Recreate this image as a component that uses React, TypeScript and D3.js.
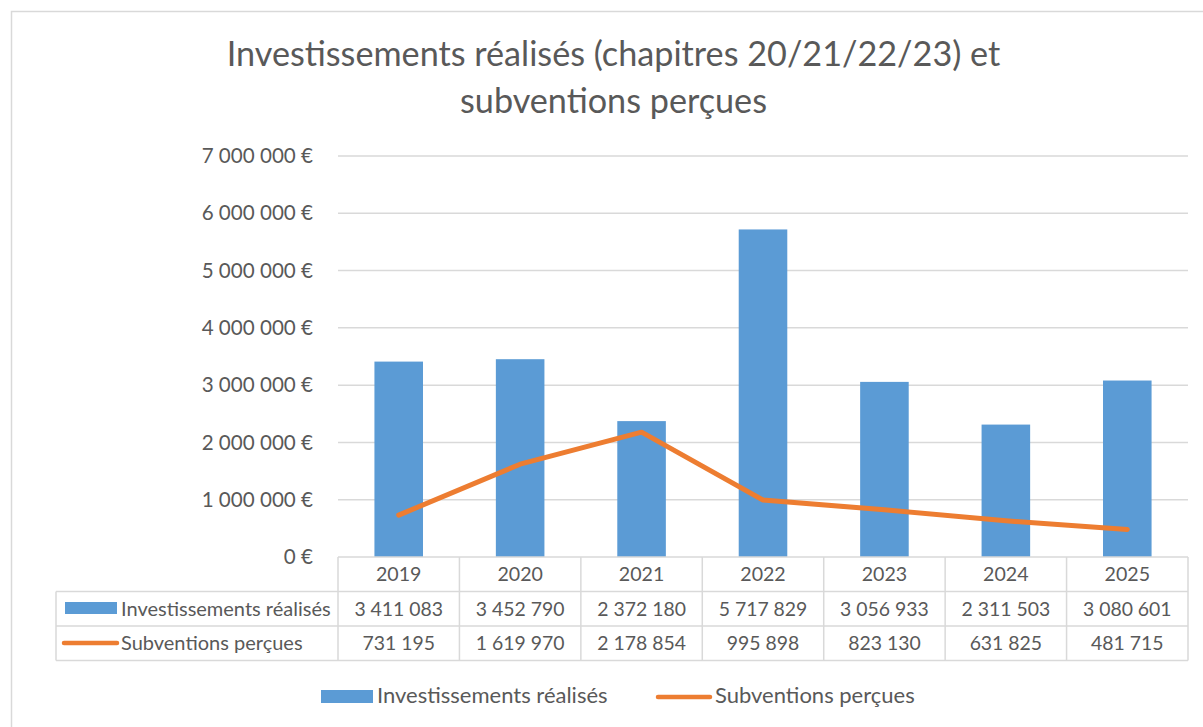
// Combo chart: investment bars + subsidy line, with an Excel-style data table underneath.
import * as d3 from "d3";

const years = ["2019", "2020", "2021", "2022", "2023", "2024", "2025"];
const investissements = [3411083, 3452790, 2372180, 5717829, 3056933, 2311503, 3080601];
const subventions = [731195, 1619970, 2178854, 995898, 823130, 631825, 481715];
const yTicks = [0, 1000000, 2000000, 3000000, 4000000, 5000000, 6000000, 7000000];
const seriesNames = ["Investissements réalisés", "Subventions perçues"];
const titleLines = ["Investissements réalisés (chapitres 20/21/22/23) et", "subventions perçues"];

const W = 1203;
const H = 727;
const BLUE = "#5B9BD5";
const ORANGE = "#ED7D31";
const GRID = "#D9D9D9";
const TEXT = "#595959";
const FONT = "Lato, 'Open Sans', sans-serif";

const fr = d3.formatLocale({ decimal: ",", thousands: " ", grouping: [3], currency: ["", " €"] });
const num = fr.format(",d");
const euro = (v: number) => num(v) + " €";

export default function App() {
  const left = 338;
  const right = 1188;
  const top = 156;
  const bottom = 557;
  const rowH = 34.5;

  const x = d3.scaleBand().domain(years).range([left, right]).padding(0);
  const xb = d3.scaleBand().domain(years).range([left, right]).paddingInner(0.6).paddingOuter(0.3);
  const y = d3.scaleLinear().domain([0, 7000000]).range([bottom, top]);

  const line = d3
    .line<number>()
    .x((_, i) => (x(years[i]) ?? 0) + x.bandwidth() / 2)
    .y((d) => y(d));

  const rows = [investissements, subventions];
  const tableBottom = bottom + rowH * 3;

  return (
    <svg width={W} height={H} style={{ position: "absolute", left: 0, top: 0, background: "#fff" }} fontFamily={FONT}>
      <rect x={11.5} y={11.5} width={1300} height={800} fill="#fff" stroke={GRID} strokeWidth={1.5} />

      {titleLines.map((t, i) => (
        <text key={t} x={613.5} y={66 + i * 47} textAnchor="middle" fontSize={34.2} fill={TEXT}>
          {t}
        </text>
      ))}

      {/* gridlines + y labels */}
      {yTicks.map((t) => (
        <g key={t}>
          {t > 0 && <line x1={left} x2={right} y1={y(t)} y2={y(t)} stroke={GRID} strokeWidth={1.5} />}
          <text x={313} y={y(t)} dy="0.35em" textAnchor="end" fontSize={20.6} fill={TEXT}>
            {euro(t)}
          </text>
        </g>
      ))}

      {/* bars */}
      {investissements.map((v, i) => (
        <rect key={years[i]} x={xb(years[i])} y={y(v)} width={xb.bandwidth()} height={y(0) - y(v)} fill={BLUE} />
      ))}

      {/* line */}
      <path d={line(subventions) ?? ""} fill="none" stroke={ORANGE} strokeWidth={5} strokeLinejoin="round" strokeLinecap="round" />

      {/* data table */}
      <g stroke={GRID} strokeWidth={1.5} fill="none">
        <line x1={left} x2={right} y1={bottom} y2={bottom} />
        <line x1={56} x2={right} y1={bottom + rowH} y2={bottom + rowH} />
        <line x1={56} x2={right} y1={bottom + rowH * 2} y2={bottom + rowH * 2} />
        <line x1={56} x2={right} y1={tableBottom} y2={tableBottom} />
        <line x1={56} x2={56} y1={bottom + rowH} y2={tableBottom} />
        {years.map((yr) => (
          <line key={yr} x1={x(yr)} x2={x(yr)} y1={bottom} y2={tableBottom} />
        ))}
        <line x1={right} x2={right} y1={bottom} y2={tableBottom} />
      </g>
      {years.map((yr) => (
        <text key={yr} x={(x(yr) ?? 0) + x.bandwidth() / 2} y={bottom + 24} textAnchor="middle" fontSize={19.6} fill={TEXT}>
          {yr}
        </text>
      ))}
      {rows.map((r, ri) =>
        r.map((v, i) => (
          <text key={ri + "-" + i} x={(x(years[i]) ?? 0) + x.bandwidth() / 2} y={bottom + rowH * (ri + 1) + 24} textAnchor="middle" fontSize={19.4} fill={TEXT}>
            {num(v)}
          </text>
        ))
      )}
      <rect x={65} y={602} width={52} height={12} fill={BLUE} />
      <line x1={64} x2={117} y1={643} y2={643} stroke={ORANGE} strokeWidth={4.5} strokeLinecap="round" />
      {seriesNames.map((s, i) => (
        <text key={s} x={121} y={bottom + rowH * (i + 1) + 24} fontSize={20} fill={TEXT}>
          {s}
        </text>
      ))}

      {/* legend */}
      <rect x={321} y={690} width={52} height={13} fill={BLUE} />
      <text x={377} y={703} fontSize={22} fill={TEXT}>
        {seriesNames[0]}
      </text>
      <line x1={658} x2={710} y1={697} y2={697} stroke={ORANGE} strokeWidth={4.5} strokeLinecap="round" />
      <text x={715} y={703} fontSize={22} fill={TEXT}>
        {seriesNames[1]}
      </text>
    </svg>
  );
}
